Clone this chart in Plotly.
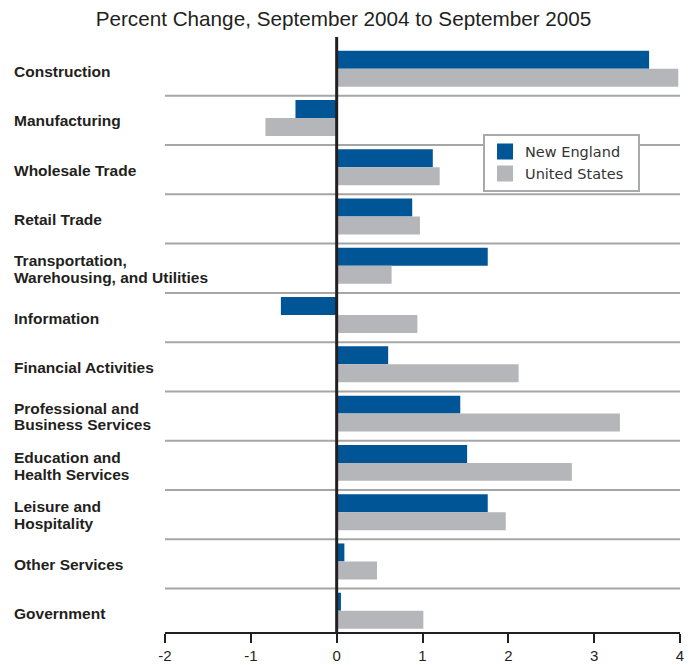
import plotly.graph_objects as go

categories = [
    "Construction", "Manufacturing", "Wholesale Trade", "Retail Trade",
    "Transportation,<br>Warehousing, and Utilities", "Information",
    "Financial Activities", "Professional and<br>Business Services",
    "Education and<br>Health Services", "Leisure and<br>Hospitality",
    "Other Services", "Government",
]
new_england = [3.64, -0.48, 1.12, 0.88, 1.76, -0.65, 0.60, 1.44, 1.52, 1.76, 0.09, 0.05]
united_states = [3.98, -0.83, 1.20, 0.97, 0.64, 0.94, 2.12, 3.30, 2.74, 1.97, 0.47, 1.01]
x_ticks = [-2, -1, 0, 1, 2, 3, 4]
series_names = ["New England", "United States"]

NE_COLOR = "#005596"
US_COLOR = "#b5b6b9"
TEXT = "#231f20"

fig = go.Figure()
fig.add_trace(go.Bar(y=categories, x=new_england, orientation="h", name=series_names[0],
                     marker=dict(color=NE_COLOR, line=dict(width=0)), showlegend=False))
fig.add_trace(go.Bar(y=categories, x=united_states, orientation="h", name=series_names[1],
                     marker=dict(color=US_COLOR, line=dict(width=0)), showlegend=False))
# legend entries with larger square swatches
for name, col in zip(series_names, [NE_COLOR, US_COLOR]):
    fig.add_trace(go.Scatter(x=[None], y=[None], mode="markers", name=name + "\u00a0\u00a0",
                             marker=dict(symbol="square", size=16, color=col, line=dict(width=0))))

n = len(categories)
shapes = []
for i in range(n - 1):
    shapes.append(dict(type="line", xref="x", yref="y", x0=x_ticks[0], x1=x_ticks[-1],
                       y0=i + 0.55, y1=i + 0.55, line=dict(color="#a6a6a6", width=2), layer="below"))
shapes.append(dict(type="line", xref="x", yref="paper", x0=0, x1=0, y0=0, y1=1,
                   line=dict(color=TEXT, width=3), layer="above"))

annotations = []
LINE_H = 16.5
for c in categories:
    lines = c.split("<br>")
    k = len(lines)
    for j, ln in enumerate(lines):
        shift = ((k - 1) / 2 - j) * LINE_H - 3
        annotations.append(dict(text=ln, xref="paper", yref="y", x=-0.297, y=c, xanchor="left",
                                yanchor="middle", align="left", showarrow=False, yshift=shift,
                                font=dict(family="Liberation Sans", size=15.5, color=TEXT,
                                          weight="bold")))

fig.update_layout(
    width=691, height=657,
    margin=dict(l=157, r=19, t=29, b=33, autoexpand=False),
    paper_bgcolor="white", plot_bgcolor="white",
    barmode="group", bargap=0.27, bargroupgap=0,
    title=dict(text="Percent Change, September 2004 to September 2005",
               x=0.4855, xref="container", xanchor="center",
               y=1 - 11 / 657, yref="container", yanchor="middle",
               font=dict(family="Liberation Sans", size=20.7, color=TEXT)),
    xaxis=dict(range=[x_ticks[0], x_ticks[-1]], tickvals=x_ticks, ticktext=[str(t) for t in x_ticks],
               showgrid=False, zeroline=False, showline=True, linecolor=TEXT, linewidth=2,
               ticks="outside", ticklen=9, tickcolor=TEXT, tickwidth=1.5, automargin=False,
               tickfont=dict(family="Liberation Sans", size=15, color=TEXT)),
    yaxis=dict(range=[n - 1 + 0.432, -0.643], showticklabels=False, showgrid=False, zeroline=False,
               showline=False, ticks="", automargin=False),
    legend=dict(x=0.6175, y=0.8375, xanchor="left", yanchor="top",
                bgcolor="white", bordercolor="#a7a9ac", borderwidth=2,
                font=dict(family="DejaVu Sans", size=14.5, color="#333333"),
                tracegroupgap=0),
    shapes=shapes, annotations=annotations,
    showlegend=True,
)

fig.write_html("out.html")
